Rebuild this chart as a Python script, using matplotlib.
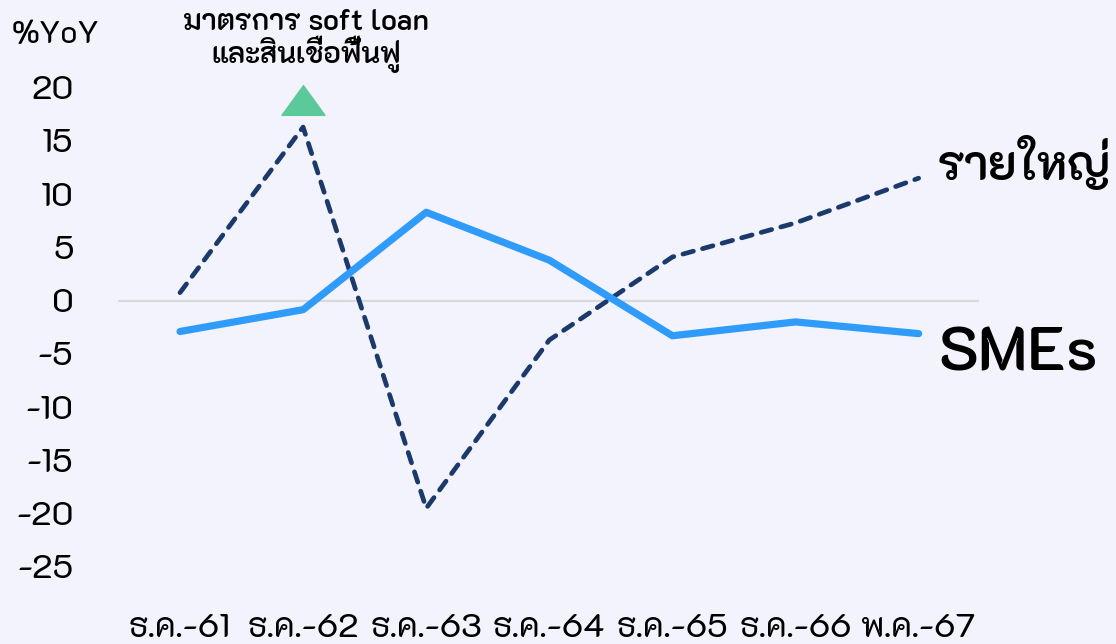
import matplotlib
matplotlib.use("Agg")
import matplotlib.pyplot as plt
from matplotlib.path import Path

plt.rcParams['font.family'] = ['K2D', 'Noto Sans', 'DejaVu Sans']

categories = ["ธ.ค.-61", "ธ.ค.-62", "ธ.ค.-63", "ธ.ค.-64", "ธ.ค.-65", "ธ.ค.-66", "พ.ค.-67"]
smes = [-2.9, -0.85, 8.3, 3.8, -3.3, -2.0, -3.1]
large = [0.75, 16.3, -19.5, -3.7, 4.1, 7.3, 11.5]
yticks = [20, 15, 10, 5, 0, -5, -10, -15, -20, -25]
marker_idx = 1
marker_value = 18.8
annot_text = "มาตรการ soft loan\nและสินเชื่อฟื้นฟู"

BG = "#F3F3FD"
fig = plt.figure(figsize=(11.16, 6.44), dpi=100, facecolor=BG)
ax = fig.add_axes([0.1057, 0.0860, 0.7715, 0.8208])
ax.set_facecolor(BG)

x = list(range(len(categories)))
ax.axhline(0, color="#D9D9D9", lw=1.5, zorder=1)
ax.plot(x, smes, color="#2F9BFA", lw=5.2, solid_capstyle="round", solid_joinstyle="round", zorder=3)
ax.plot(x, large, color="#1B3A6B", lw=3.4, linestyle=(0, (2.3, 2.0)), dash_capstyle="round", zorder=2)

tri = Path([(-1, -0.69), (1, -0.69), (0, 0.69), (-1, -0.69)],
           [Path.MOVETO, Path.LINETO, Path.LINETO, Path.CLOSEPOLY])
ax.plot([marker_idx], [marker_value], marker=tri, markersize=31, color="#5CC99A", lw=0, zorder=4, clip_on=False)

ax.set_xlim(-0.504, 6.49)
ax.set_ylim(-27.05, 22.6)
ax.set_xticks(x)
ax.set_xticklabels(categories, fontsize=24)
ax.set_yticks(yticks)
ax.set_yticklabels([str(v) for v in yticks], fontsize=24)
ax.tick_params(axis='both', length=0)
ax.tick_params(axis='y', pad=32)
ax.tick_params(axis='x', pad=18)
for s in ax.spines.values():
    s.set_visible(False)

fig.text(12/1116, 1 - 35/644, "%YoY", fontsize=23, ha="left", va="center")
ax.annotate(annot_text, xy=(marker_idx, marker_value), xytext=(306/1116, 1 - 41/644),
            textcoords="figure fraction", ha="center", va="center", fontsize=21,
            weight=600, linespacing=1.0)
fig.text(938/1116, 1 - 163/644, "รายใหญ่", fontsize=34, weight=600, ha="left", va="center")
fig.text(938/1116, 1 - 355/644, "SMEs", fontsize=44, weight=600, ha="left", va="center")

fig.savefig("out.png", dpi=100, facecolor=BG)
